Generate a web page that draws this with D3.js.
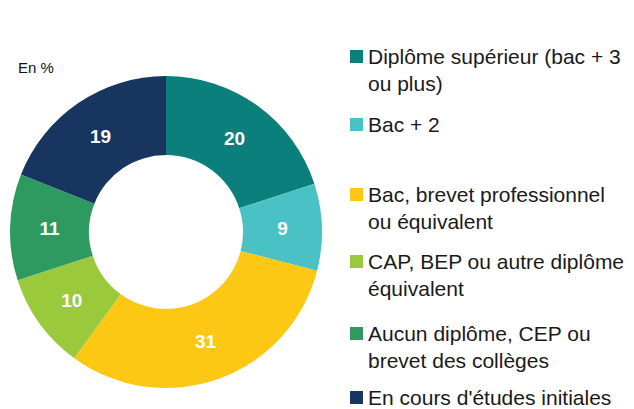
<!DOCTYPE html>
<html>
<head>
<meta charset="utf-8">
<script src="https://cdn.jsdelivr.net/npm/d3@7"></script>
<style>
  body { margin: 0; background: #fff; }
  text { font-family: "Liberation Sans", Arial, sans-serif; }
</style>
</head>
<body>
<div id="vis"></div>
<script>
var w = 634;
var h = 409;

// data (share in %)
var categories = [
  'Diplôme supérieur (bac + 3 ou plus)',
  'Bac + 2',
  'Bac, brevet professionnel ou équivalent',
  'CAP, BEP ou autre diplôme équivalent',
  'Aucun diplôme, CEP ou brevet des collèges',
  "En cours d'études initiales"
];
var values = [20, 9, 31, 10, 11, 19];
var colors = ['#0b7f7b', '#4ac2c5', '#fcc814', '#9aca3c', '#2f9a60', '#17355f'];

// legend lines, as wrapped in the original
var legendLines = [
  ['Diplôme supérieur (bac + 3', 'ou plus)'],
  ['Bac + 2'],
  ['Bac, brevet professionnel', 'ou équivalent'],
  ['CAP, BEP ou autre diplôme', 'équivalent'],
  ['Aucun diplôme, CEP ou', 'brevet des collèges'],
  ["En cours d'études initiales"]
];
var legendBaselines = [64, 132, 202, 269, 341, 405];

var svg = d3.select('#vis')
  .append('svg')
    .attr('width', w)
    .attr('height', h);

var cx = 166, cy = 232;

var pie = d3.pie()
  .sort(null)
  .value(function(d) { return d; });

var arc = d3.arc()
  .innerRadius(77)
  .outerRadius(156);

var g = svg.append('g')
  .attr('transform', 'translate(' + cx + ',' + cy + ')');

g.selectAll('path')
  .data(pie(values))
  .enter()
  .append('path')
    .attr('d', arc)
    .style('fill', function(d, i) { return colors[i]; });

g.selectAll('text')
  .data(pie(values))
  .enter()
  .append('text')
    .attr('x', function(d) { return arc.centroid(d)[0]; })
    .attr('y', function(d) { return arc.centroid(d)[1]; })
    .attr('dy', '0.36em')
    .attr('text-anchor', 'middle')
    .style('fill', '#fff')
    .style('font-weight', 'bold')
    .style('font-size', '19px')
    .text(function(d) { return d.data; });

svg.append('text')
  .attr('x', 18)
  .attr('y', 73)
  .style('font-size', '15px')
  .style('fill', '#111')
  .text('En %');

// legend
var legend = svg.selectAll('g.legend')
  .data(categories)
  .enter()
  .append('g')
    .attr('class', 'legend')
    .attr('transform', function(d, i) { return 'translate(350,' + legendBaselines[i] + ')'; });

legend.append('rect')
  .attr('x', 0)
  .attr('y', -14)
  .attr('width', 13)
  .attr('height', 13)
  .style('fill', function(d, i) { return colors[i]; });

legend.each(function(d, i) {
  var t = d3.select(this).append('text')
    .attr('x', 18)
    .attr('y', 0)
    .style('font-size', '21px')
    .style('fill', '#1a1a1a');
  legendLines[i].forEach(function(line, j) {
    t.append('tspan')
      .attr('x', 18)
      .attr('dy', j === 0 ? 0 : 27)
      .text(line);
  });
});
</script>
</body>
</html>
